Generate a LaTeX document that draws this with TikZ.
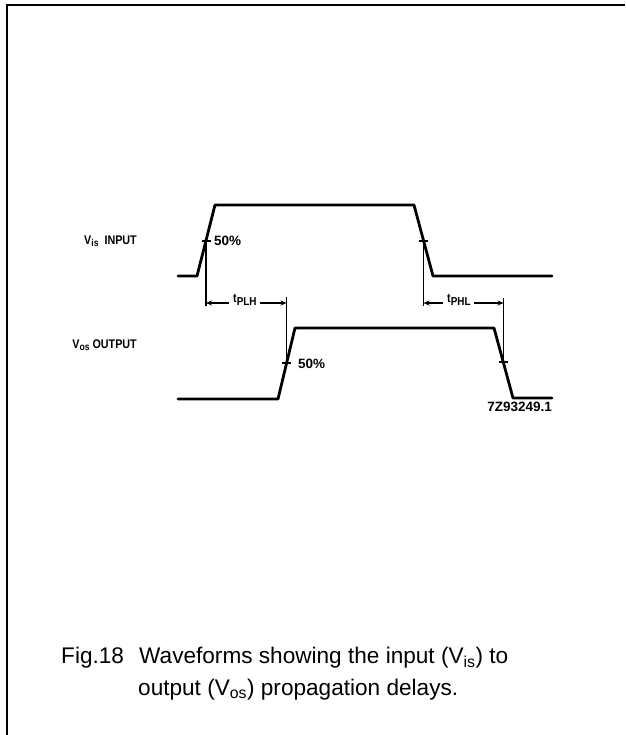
\documentclass[tikz,border=0pt]{standalone}
\usepackage{fontspec}
\setmainfont{Liberation Sans}
\newfontfamily\narrowlbl{Liberation Sans}[FakeStretch=0.86]
\usetikzlibrary{arrows.meta}
\begin{document}
\begin{tikzpicture}[x=1pt,y=-1pt,
  wave/.style={line width=2.8pt,line join=round,line cap=round},
  vline/.style={line width=1.3pt},
  dimline/.style={line width=1.1pt},
  lbl/.style={font=\narrowlbl\fontsize{12.5}{14}\selectfont\bfseries,inner sep=0pt},
  numlbl/.style={font=\fontsize{13.5}{15}\selectfont\bfseries,inner sep=0pt},
  captext/.style={font=\fontsize{22.6}{26}\selectfont,inner sep=0pt,anchor=base west}]
\useasboundingbox (0,0) rectangle (625,735);
\fill[white] (0,0) rectangle (625,735);
% frame
\draw[line width=2pt] (6,5) -- (625,5);
\draw[line width=1.3pt] (7,4) -- (7,735);
% input waveform
\coordinate (i0) at (178,276);
\coordinate (i1) at (197,276);
\coordinate (i2) at (215,205);
\coordinate (i3) at (414,205);
\coordinate (i4) at (433,276);
\coordinate (i5) at (552,276);
\draw[wave] (i0) -- (i1) -- (i2) -- (i3) -- (i4) -- (i5);
% output waveform
\coordinate (o0) at (178,399);
\coordinate (o1) at (278,399);
\coordinate (o2) at (295,328);
\coordinate (o3) at (494,328);
\coordinate (o4) at (513,398);
\coordinate (o5) at (552,398);
\draw[wave] (o0) -- (o1) -- (o2) -- (o3) -- (o4) -- (o5);
% 50% crossing points
\coordinate (ia) at (206,241);
\coordinate (ib) at (423.5,241);
\coordinate (oa) at (286.5,363);
\coordinate (ob) at (503.5,362);
\foreach \p in {ia,ib,oa,ob}
  \draw[vline] ([xshift=-4.5pt]\p) -- ([xshift=4.5pt]\p);
% vertical reference lines
\coordinate (ial) at (206,306);
\coordinate (ibl) at (423.5,306);
\coordinate (oat) at (286.5,297);
\coordinate (obt) at (503.5,298);
\draw[vline] (ia) -- (ial);
\draw[vline] (ib) -- (ibl);
\draw[vline] (oat) -- (oa);
\draw[vline] (obt) -- (ob);
% delay labels with arrows
\node[lbl,anchor=base west] (tplh) at (233,302) {t\raisebox{-3pt}{\fontsize{11.5}{12}\selectfont PLH}};
\node[lbl,anchor=base west] (tphl) at (447,302) {t\raisebox{-3pt}{\fontsize{11.5}{12}\selectfont PHL}};
\draw[dimline,-{Stealth[length=6pt,width=5pt]}] ([xshift=-4pt]tplh.west |- 0,303) -- (206,303);
\draw[dimline,-{Stealth[length=6pt,width=5pt]}] ([xshift=3pt]tplh.east |- 0,303) -- (286.5,303);
\draw[dimline,-{Stealth[length=6pt,width=5pt]}] ([xshift=-4pt]tphl.west |- 0,303) -- (423.5,303);
\draw[dimline,-{Stealth[length=6pt,width=5pt]}] ([xshift=3pt]tphl.east |- 0,303) -- (503.5,303);
% 50% labels
\node[numlbl,anchor=west] (p1) at (214,241) {50\%};
\node[numlbl,anchor=west] (p2) at (298,364) {50\%};
% signal names
\node[lbl,anchor=east] (vin) at (137,241) {V\raisebox{-2.5pt}{\fontsize{10}{11}\selectfont is}\ \ INPUT};
\node[lbl,anchor=east] (vout) at (137,345) {V\raisebox{-2.5pt}{\fontsize{10}{11}\selectfont os}\ OUTPUT};
\node[numlbl,anchor=east] (code) at (552,407) {7Z93249.1};
% caption
\node[captext] (c0) at (61,663) {Fig.18};
\node[captext] (c1) at (139,663) {Waveforms showing the input (V\textsubscript{is}) to};
\node[captext] (c2) at (138,695) {output (V\textsubscript{os}) propagation delays.};
\end{tikzpicture}
\end{document}
